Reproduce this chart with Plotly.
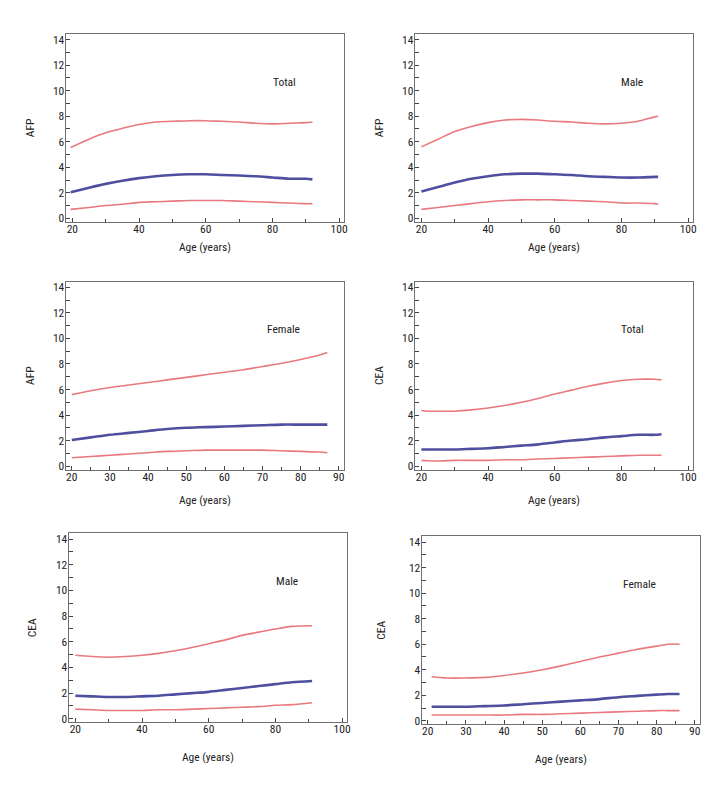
import plotly.graph_objects as go

# ---------------- data ----------------
# AFP Total
afp_total_age = [19.5, 25, 30, 35, 40, 45, 50, 55, 60, 65, 70, 75, 80, 85, 90, 92]
afp_total_up  = [5.55, 6.2, 6.7, 7.05, 7.35, 7.55, 7.6, 7.65, 7.65, 7.6, 7.55, 7.45, 7.4, 7.45, 7.5, 7.55]
afp_total_med = [2.05, 2.4, 2.7, 2.95, 3.15, 3.3, 3.4, 3.45, 3.45, 3.4, 3.35, 3.3, 3.2, 3.1, 3.1, 3.05]
afp_total_low = [0.7, 0.85, 1.0, 1.1, 1.25, 1.3, 1.35, 1.4, 1.4, 1.4, 1.35, 1.3, 1.25, 1.2, 1.15, 1.15]

# AFP Male
afp_male_age = [20, 25, 30, 35, 40, 45, 50, 55, 60, 65, 70, 75, 80, 85, 90, 91]
afp_male_up  = [5.6, 6.2, 6.8, 7.2, 7.5, 7.7, 7.75, 7.7, 7.6, 7.55, 7.45, 7.4, 7.45, 7.6, 7.95, 8.0]
afp_male_med = [2.1, 2.45, 2.8, 3.1, 3.3, 3.45, 3.5, 3.5, 3.45, 3.4, 3.3, 3.25, 3.2, 3.2, 3.25, 3.25]
afp_male_low = [0.7, 0.85, 1.0, 1.15, 1.3, 1.4, 1.45, 1.45, 1.45, 1.4, 1.35, 1.3, 1.2, 1.2, 1.15, 1.1]

# AFP Female
afp_female_age = [20, 25, 30, 35, 40, 45, 50, 55, 60, 65, 70, 75, 80, 85, 87]
afp_female_up  = [5.6, 5.9, 6.15, 6.35, 6.55, 6.75, 6.95, 7.15, 7.35, 7.55, 7.8, 8.05, 8.35, 8.7, 8.9]
afp_female_med = [2.05, 2.25, 2.45, 2.6, 2.75, 2.9, 3.0, 3.05, 3.1, 3.15, 3.2, 3.25, 3.25, 3.25, 3.25]
afp_female_low = [0.65, 0.75, 0.85, 0.95, 1.05, 1.15, 1.2, 1.25, 1.25, 1.25, 1.25, 1.2, 1.15, 1.1, 1.05]

# CEA Total
cea_total_age = [20, 22, 25, 30, 35, 40, 45, 50, 55, 60, 65, 70, 75, 80, 85, 90, 92]
cea_total_up  = [4.35, 4.3, 4.3, 4.3, 4.4, 4.55, 4.75, 5.0, 5.3, 5.65, 5.95, 6.25, 6.5, 6.7, 6.8, 6.8, 6.75]
cea_total_med = [1.3, 1.3, 1.3, 1.3, 1.35, 1.4, 1.5, 1.6, 1.7, 1.85, 2.0, 2.1, 2.25, 2.35, 2.45, 2.45, 2.5]
cea_total_low = [0.45, 0.42, 0.4, 0.45, 0.45, 0.45, 0.5, 0.5, 0.55, 0.6, 0.65, 0.7, 0.75, 0.8, 0.85, 0.85, 0.85]

# CEA Male
cea_male_age = [20, 25, 30, 35, 40, 45, 50, 55, 60, 65, 70, 75, 80, 85, 91]
cea_male_up  = [4.95, 4.85, 4.8, 4.85, 4.95, 5.1, 5.3, 5.55, 5.85, 6.15, 6.5, 6.75, 7.0, 7.2, 7.25]
cea_male_med = [1.8, 1.75, 1.7, 1.7, 1.75, 1.8, 1.9, 2.0, 2.1, 2.25, 2.4, 2.55, 2.7, 2.85, 2.95]
cea_male_low = [0.75, 0.7, 0.65, 0.65, 0.65, 0.7, 0.7, 0.75, 0.8, 0.85, 0.9, 0.95, 1.05, 1.1, 1.25]

# CEA Female
cea_female_age = [21, 25, 30, 35, 40, 45, 50, 55, 60, 65, 70, 75, 80, 83, 86]
cea_female_up  = [3.45, 3.35, 3.35, 3.4, 3.55, 3.75, 4.0, 4.3, 4.65, 5.0, 5.3, 5.6, 5.85, 6.0, 6.0]
cea_female_med = [1.1, 1.1, 1.1, 1.15, 1.2, 1.3, 1.4, 1.5, 1.6, 1.7, 1.85, 1.95, 2.05, 2.1, 2.1]
cea_female_low = [0.45, 0.45, 0.45, 0.45, 0.45, 0.5, 0.5, 0.55, 0.6, 0.65, 0.7, 0.75, 0.8, 0.8, 0.8]

panels = [
    # (age, upper, median, lower, y title, label, label x, x max tick)
    (afp_total_age, afp_total_up, afp_total_med, afp_total_low, "AFP", "Total", 83.5, 100),
    (afp_male_age, afp_male_up, afp_male_med, afp_male_low, "AFP", "Male", 83.3, 100),
    (afp_female_age, afp_female_up, afp_female_med, afp_female_low, "AFP", "Female", 75.4, 90),
    (cea_total_age, cea_total_up, cea_total_med, cea_total_low, "CEA", "Total", 83.3, 100),
    (cea_male_age, cea_male_up, cea_male_med, cea_male_low, "CEA", "Male", 83.6, 100),
    (cea_female_age, cea_female_up, cea_female_med, cea_female_low, "CEA", "Female", 75.5, 90),
]

# pixel frame of each panel: (left, right, top, bottom)
boxes = [
    (58, 338, 25, 214),
    (409, 689, 25, 214),
    (58, 338, 274, 463),
    (409, 689, 274, 463),
    (61, 341, 527, 717),
    (416, 696, 530, 719),
]
x_title_standoff = [8, 8, 13, 13, 17, 17]
y_title_standoff = [15, 15, 15, 15, 16, 20]

W, H = 720, 792
RED = "#E9797F"
BLUE = "#4F4FA0"
FRAME = "#707070"
FONT = "Roboto Condensed, Roboto, sans-serif"
FS = 11.5
TXT = "#222"
WEIGHT = 400

fig = go.Figure()
layout = dict(
    width=W, height=H, margin=dict(l=0, r=0, t=0, b=0),
    paper_bgcolor="white", plot_bgcolor="white", showlegend=False,
    font=dict(family=FONT, size=FS, color=TXT, weight=WEIGHT),
)
annotations = []

for i, (p, box) in enumerate(zip(panels, boxes)):
    age, up, med, low, ytitle, label, lx, xmax = p
    n = "" if i == 0 else str(i + 1)
    xa, ya = "x" + n, "y" + n
    for ys, col, wd in ((up, RED, 1.6), (low, RED, 1.6), (med, BLUE, 2.6)):
        fig.add_trace(go.Scatter(x=age, y=ys, mode="lines", xaxis=xa, yaxis=ya,
                                 line=dict(color=col, width=wd, shape="spline", smoothing=0.8),
                                 hoverinfo="skip"))
    l, r, t, b = box
    if xmax == 100:
        xr, dt, mdt = [18.0, 101.5], 20, 10
    else:
        xr, dt, mdt = [18.4, 91.4], 10, 5
    f = dict(size=FS, family=FONT, color=TXT, weight=WEIGHT)
    layout["xaxis" + n] = dict(
        domain=[l / W, r / W], anchor=ya, range=xr, dtick=dt, tick0=0,
        showgrid=False, zeroline=False, showline=True, mirror=True,
        linecolor=FRAME, linewidth=1.2, ticks="inside", ticklen=4, tickcolor="#444",
        minor=dict(dtick=mdt, ticks="inside", ticklen=3, tickcolor="#444", showgrid=False),
        tickfont=f, ticklabelstandoff=-4,
        title=dict(text="Age (years)", font=f, standoff=x_title_standoff[i]),
    )
    layout["yaxis" + n] = dict(
        domain=[1 - b / H, 1 - t / H], anchor=xa, range=[-0.28, 14.45], dtick=2, tick0=0,
        showgrid=False, zeroline=False, showline=True, mirror=True,
        linecolor=FRAME, linewidth=1.2, ticks="inside", ticklen=4, tickcolor="#444",
        minor=dict(dtick=1, ticks="inside", ticklen=4, tickcolor="#444", showgrid=False),
        tickfont=f, ticklabelstandoff=-2,
        title=dict(text=ytitle, font=f, standoff=y_title_standoff[i]),
    )
    annotations.append(dict(x=lx, y=10.7, xref=xa, yref=ya, text=label, showarrow=False, font=f))

layout["annotations"] = annotations
fig.update_layout(**layout)
fig.write_html("out.html")
